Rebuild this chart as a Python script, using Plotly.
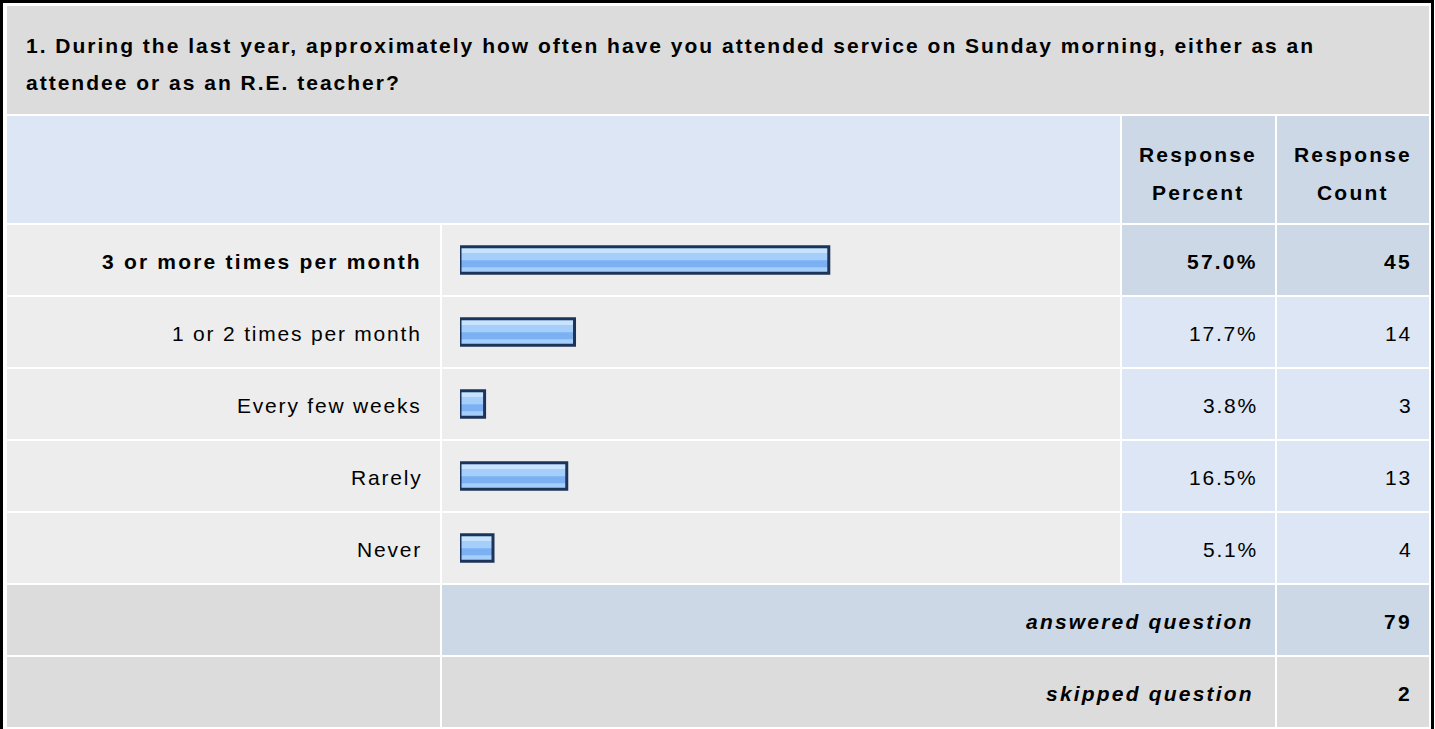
import plotly.graph_objects as go

# ---------------- data ----------------
question_line1 = "1. During the last year, approximately how often have you attended service on Sunday morning, either as an"
question_line2 = "attendee or as an R.E. teacher?"
header_percent = ["Response", "Percent"]
header_count = ["Response", "Count"]
categories = ["3 or more times per month", "1 or 2 times per month", "Every few weeks", "Rarely", "Never"]
percents = [57.0, 17.7, 3.8, 16.5, 5.1]
counts = [45, 14, 3, 13, 4]
summary_labels = ["answered question", "skipped question"]
summary_counts = [79, 2]
highlight_index = 0

# ---------------- geometry / style ----------------
W, H = 1435, 729
FONT = "Liberation Sans, Arial, sans-serif"
C_TITLE = "#DCDCDC"
C_HEAD = "#DCE6F4"
C_HEAD_DARK = "#CCD8E6"
C_ROW = "#EDEDED"
C_CELL = "#DCE6F4"
C_CELL_DARK = "#CCD8E6"
FS = 21            # font size
SP_REG = 1.8       # letter spacing, regular text
SP_BOLD = 2.2      # letter spacing, bold text
SP_TITLE = 2.0

def X(px):
    return px / W

def Y(py):
    return 1 - py / H

shapes = []

def rect(x0, y0, x1, y1, color):
    shapes.append(dict(type="rect", xref="paper", yref="paper",
                       x0=X(x0), x1=X(x1), y0=Y(y1), y1=Y(y0),
                       fillcolor=color, line=dict(width=0), layer="below"))

annotations = []

def txt(text, x, y, xanchor, bold=False, italic=False, sp=None, color="#000"):
    if sp is None:
        sp = SP_BOLD if bold else SP_REG
    t = f'<span style="letter-spacing:{sp}px">{text}</span>'
    if italic:
        t = f"<i>{t}</i>"
    if bold:
        t = f"<b>{t}</b>"
    annotations.append(dict(text=t, x=X(x), y=Y(y), xref="paper", yref="paper",
                            xanchor=xanchor, yanchor="middle", showarrow=False,
                            font=dict(family=FONT, size=FS, color=color)))

# outer frame
rect(0, 0, 1434, 760, "#000000")
rect(3, 3, 1431, 760, "#FFFFFF")

# title row
rect(7, 6, 1429, 114, C_TITLE)
txt(question_line1, 24, 45, "left", bold=True, sp=SP_TITLE)
txt(question_line2, 24, 82, "left", bold=True, sp=SP_TITLE)

# header row
rect(7, 116, 1120, 223, C_HEAD)
rect(1122, 116, 1275, 223, C_HEAD_DARK)
rect(1277, 116, 1429, 223, C_HEAD_DARK)
for i, line in enumerate(header_percent):
    txt(line, 1198, 155 + 37 * i, "center", bold=True)
for i, line in enumerate(header_count):
    txt(line, 1353, 155 + 37 * i, "center", bold=True)

# data rows
ROW0, ROWH, GAP = 225, 70, 2
for i, (cat, p, c) in enumerate(zip(categories, percents, counts)):
    y0 = ROW0 + i * (ROWH + GAP)
    y1 = y0 + ROWH
    yc = (y0 + y1) / 2 + 1
    hl = i == highlight_index
    rect(7, y0, 440, y1, C_ROW)
    rect(442, y0, 1120, y1, C_ROW)
    rect(1122, y0, 1275, y1, C_CELL_DARK if hl else C_CELL)
    rect(1277, y0, 1429, y1, C_CELL_DARK if hl else C_CELL)
    txt(cat, 424, yc, "right", bold=hl)
    txt(f"{p:.1f}%", 1260, yc, "right", bold=hl)
    txt(str(c), 1414, yc, "right", bold=hl)

# summary rows
ys = ROW0 + len(categories) * (ROWH + GAP)
for j, (lab, val) in enumerate(zip(summary_labels, summary_counts)):
    y0 = ys + j * (ROWH + GAP)
    y1 = y0 + ROWH
    yc = (y0 + y1) / 2 + 1
    col = C_CELL_DARK if j == 0 else C_TITLE
    rect(7, y0, 440, y1, C_TITLE)
    rect(442, y0, 1275, y1, col)
    rect(1277, y0, 1429, y1, col)
    txt(lab, 1256, yc, "right", bold=True, italic=True)
    txt(str(val), 1414, yc, "right", bold=True)

# ---------------- bars ----------------
BW = 0.37
fig = go.Figure()
common = dict(y=categories, x=percents, orientation="h", xaxis="x", yaxis="y",
              hoverinfo="skip", showlegend=False)
fig.add_trace(go.Bar(**common, width=BW, marker=dict(color="#A5CEFB", line=dict(width=0))))
fig.add_trace(go.Bar(**common, width=0.065, offset=-0.163,
                     marker=dict(color="#C8E3FF", line=dict(width=0))))
fig.add_trace(go.Bar(**common, width=0.095, offset=0.005,
                     marker=dict(color="#7BB0F2", line=dict(width=0))))
fig.add_trace(go.Bar(**common, width=BW,
                     marker=dict(color="rgba(0,0,0,0)", line=dict(width=3, color="#1C3459"))))

fig.update_layout(
    width=W, height=H,
    margin=dict(l=0, r=0, t=0, b=0),
    paper_bgcolor="#FFFFFF", plot_bgcolor="rgba(0,0,0,0)",
    barmode="overlay",
    xaxis=dict(domain=[X(460), X(1107)], range=[0, 100], visible=False, fixedrange=True),
    yaxis=dict(domain=[Y(584), Y(224)], type="category", categoryorder="array",
               categoryarray=categories, range=[len(categories) - 0.5, -0.5],
               visible=False, fixedrange=True),
    shapes=shapes,
    annotations=annotations,
)

fig.write_html("out.html", config={"displayModeBar": False},
               post_script="document.body.style.margin='0';document.body.style.overflow='hidden';")
